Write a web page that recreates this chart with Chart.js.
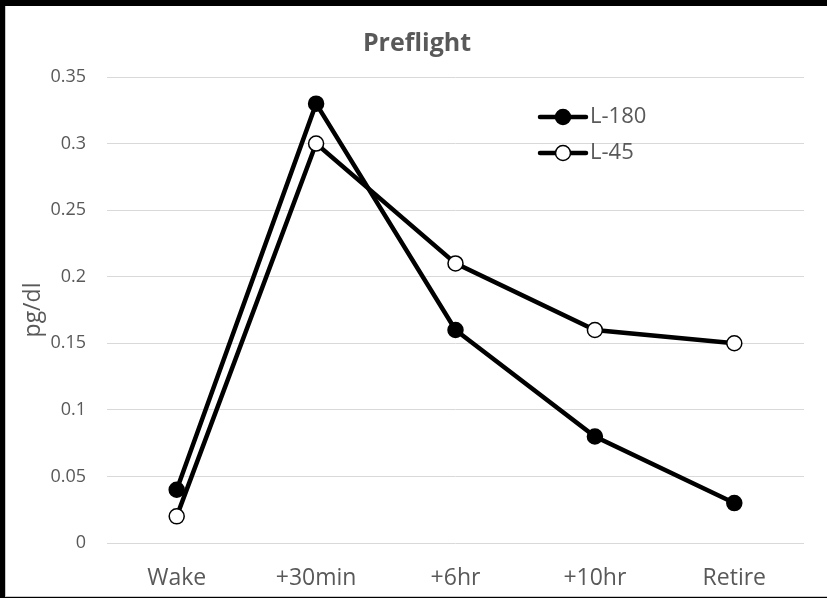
<!DOCTYPE html>
<html>
<head>
<meta charset="utf-8">
<script src="https://cdn.jsdelivr.net/npm/chart.js@4/dist/chart.umd.min.js"></script>
<style>
  html, body { margin: 0; padding: 0; background: #000; overflow: hidden; width: 827px; height: 598px; }
  #frame {
    position: absolute; left: 5px; top: 6px; width: 821px; height: 590px;
    background: #fff; border-left: 1px solid #c8c8c8; border-bottom: 1px solid #c8c8c8;
  }
  #wrap { position: absolute; left: 0; top: 0; width: 827px; height: 598px; }
</style>
</head>
<body>
<div id="frame"></div>
<div id="wrap"><canvas id="c" width="827" height="598"></canvas></div>
<script>
// Sampling times across the day
const categories = ['Wake', '+30min', '+6hr', '+10hr', 'Retire'];
// Concentration in pg/dl for each preflight session
const seriesL180 = [0.04, 0.33, 0.16, 0.08, 0.03];
const seriesL45 = [0.02, 0.30, 0.21, 0.16, 0.15];
const seriesNames = ['L-180', 'L-45'];
const chartTitle = 'Preflight';
// Value axis range and step
const yMin = 0, yMax = 0.35, yStep = 0.05;

const FONT = "'Open Sans', 'DejaVu Sans', sans-serif";
const TEXT = '#595959';

// Title over the whole frame, plus the legend inside the plot, upper right
const decorations = {
  id: 'decorations',
  afterDraw(chart) {
    const ctx = chart.ctx;
    ctx.save();
    ctx.fillStyle = TEXT;
    ctx.font = 'bold 25px ' + FONT;
    ctx.textAlign = 'center'; ctx.textBaseline = 'middle';
    ctx.fillText(chartTitle, 417, 44);

    const rows = [{ ds: chart.data.datasets[0], y: 117 }, { ds: chart.data.datasets[1], y: 153 }];
    rows.forEach(r => {
      const x0 = 540, x1 = 586, xm = 563;
      ctx.strokeStyle = r.ds.borderColor;
      ctx.lineWidth = r.ds.borderWidth;
      ctx.lineCap = 'round';
      ctx.beginPath(); ctx.moveTo(x0, r.y); ctx.lineTo(x1, r.y); ctx.stroke();
      ctx.beginPath(); ctx.arc(xm, r.y, r.ds.pointRadius, 0, Math.PI * 2);
      ctx.fillStyle = r.ds.pointBackgroundColor; ctx.fill();
      ctx.lineWidth = r.ds.pointBorderWidth; ctx.strokeStyle = r.ds.pointBorderColor; ctx.stroke();
      ctx.fillStyle = TEXT;
      ctx.font = '22px ' + FONT;
      ctx.textAlign = 'left'; ctx.textBaseline = 'middle';
      ctx.fillText(r.ds.label, 590, r.y);
    });
    ctx.restore();
  }
};

new Chart(document.getElementById('c'), {
  type: 'line',
  data: {
    labels: categories,
    datasets: [
      {
        label: seriesNames[0], data: seriesL180, order: 1,
        borderColor: '#000', borderWidth: 4.5,
        pointRadius: 7.5, pointBackgroundColor: '#000', pointBorderColor: '#000', pointBorderWidth: 1.5,
        tension: 0
      },
      {
        label: seriesNames[1], data: seriesL45, order: 0,
        borderColor: '#000', borderWidth: 4.5,
        pointRadius: 7.5, pointBackgroundColor: '#fff', pointBorderColor: '#000', pointBorderWidth: 1.5,
        tension: 0
      }
    ]
  },
  options: {
    responsive: false,
    animation: false,
    events: [],
    layout: { padding: { left: 0, right: 23, top: 77, bottom: 0 } },
    plugins: {
      legend: { display: false },
      tooltip: { enabled: false },
      title: { display: false }
    },
    scales: {
      x: {
        offset: true,
        grid: { display: false, drawTicks: false },
        border: { display: false },
        ticks: { color: TEXT, font: { family: FONT, size: 23 }, padding: 22 },
        afterFit(scale) { scale.height = 55; }
      },
      y: {
        min: yMin, max: yMax,
        grid: { color: '#d9d9d9', lineWidth: 1, drawTicks: false },
        border: { display: false },
        ticks: {
          stepSize: yStep, color: TEXT, padding: 21,
          font: { family: FONT, size: 18 },
          callback: v => String(Math.round(v * 100) / 100)
        },
        title: {
          display: true, text: 'pg/dl', color: TEXT,
          font: { family: FONT, size: 23 }, padding: { top: 20, bottom: 0 }
        },
        afterFit(scale) { scale.width = 107; }
      }
    }
  },
  plugins: [decorations]
});
</script>
</body>
</html>
